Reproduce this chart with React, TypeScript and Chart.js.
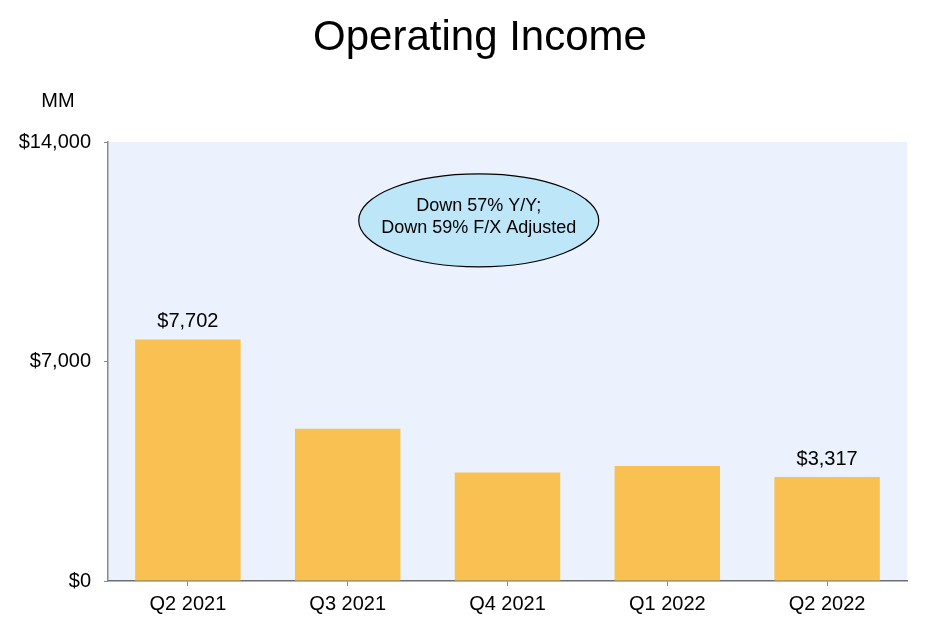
import React, { useRef, useEffect } from 'react';
import { Chart, ChartConfiguration, Plugin, registerables } from 'chart.js';

Chart.register(...registerables);

const FONT = "'Liberation Sans', Arial, sans-serif";

const quarters = ['Q2 2021', 'Q3 2021', 'Q4 2021', 'Q1 2022', 'Q2 2022'];
const operatingIncome = [7702, 4852, 3460, 3669, 3317];
const labelledBars = [0, 4];
const yTicks = [0, 7000, 14000];
const calloutLines = ['Down 57% Y/Y;', 'Down 59% F/X Adjusted'];

const money = (v: number) => '$' + v.toLocaleString('en-US');

// plot background, callout ellipse, title, unit label, value labels
const decorations: Plugin<'bar'> = {
  id: 'decorations',
  beforeDraw(chart) {
    const { ctx, chartArea } = chart;
    ctx.save();
    ctx.fillStyle = '#EBF2FD';
    ctx.fillRect(chartArea.left, chartArea.top, chartArea.right - chartArea.left, chartArea.bottom - chartArea.top);
    ctx.restore();
  },
  afterDraw(chart) {
    const { ctx, chartArea } = chart;
    const yScale = chart.scales.y;
    ctx.save();

    // title + unit
    ctx.fillStyle = '#000';
    ctx.textAlign = 'center';
    ctx.textBaseline = 'middle';
    ctx.font = `42px ${FONT}`;
    ctx.fillText('Operating Income', 480, 38);
    ctx.font = `20px ${FONT}`;
    ctx.fillText('MM', 58, 101);

    // value labels
    const meta = chart.getDatasetMeta(0);
    ctx.font = `20px ${FONT}`;
    labelledBars.forEach((i) => {
      const bar = meta.data[i];
      ctx.fillText(money(operatingIncome[i]), bar.x, bar.y - 18);
    });

    // callout
    const cx = chartArea.left + (chartArea.right - chartArea.left) * 0.464;
    const cy = yScale.getPixelForValue(11500);
    ctx.beginPath();
    ctx.ellipse(cx, cy, 120, 46.5, 0, 0, Math.PI * 2);
    ctx.fillStyle = '#BDE6F8';
    ctx.fill();
    ctx.lineWidth = 1.2;
    ctx.strokeStyle = '#000';
    ctx.stroke();
    ctx.fillStyle = '#000';
    ctx.font = `18px ${FONT}`;
    ctx.fillText(calloutLines[0], cx, cy - 14);
    ctx.fillText(calloutLines[1], cx, cy + 8);

    ctx.restore();
  },
};

export default function App() {
  const canvasRef = useRef<HTMLCanvasElement>(null);

  useEffect(() => {
    if (!canvasRef.current) return;
    document.body.style.margin = '0';

    const config: ChartConfiguration<'bar'> = {
      type: 'bar',
      data: {
        labels: quarters,
        datasets: [
          {
            data: operatingIncome,
            backgroundColor: '#F9C152',
            borderWidth: 0,
            barPercentage: 0.66,
            categoryPercentage: 1,
          },
        ],
      },
      options: {
        responsive: false,
        animation: false,
        devicePixelRatio: 1,
        layout: { padding: { top: 142, right: 31, left: 0, bottom: 0 } },
        plugins: {
          legend: { display: false },
          title: { display: false },
          tooltip: { enabled: false },
        },
        scales: {
          x: {
            afterFit: (s) => {
              s.height = 49;
            },
            grid: { offset: false, drawOnChartArea: false, tickLength: 5, color: '#888' },
            border: { display: true, color: '#6f6f6f', width: 1.5 },
            ticks: { color: '#000', padding: 6, font: { family: FONT, size: 20 } },
          },
          y: {
            min: 0,
            max: 14000,
            afterFit: (s) => {
              s.width = 108;
            },
            afterBuildTicks: (s) => {
              s.ticks = yTicks.map((v) => ({ value: v }));
            },
            grid: { drawOnChartArea: false, tickLength: 4, color: '#888' },
            border: { display: true, color: '#8a8a8a', width: 1.5 },
            ticks: {
              color: '#000',
              padding: 13,
              font: { family: FONT, size: 20 },
              callback: (v) => money(Number(v)),
            },
          },
        },
      },
      plugins: [decorations],
    };

    const chart = new Chart(canvasRef.current, config);
    return () => chart.destroy();
  }, []);

  return (
    <div style={{ position: 'absolute', left: 0, top: 0, width: 938, height: 630, background: '#fff' }}>
      <canvas ref={canvasRef} width={938} height={630} />
    </div>
  );
}
